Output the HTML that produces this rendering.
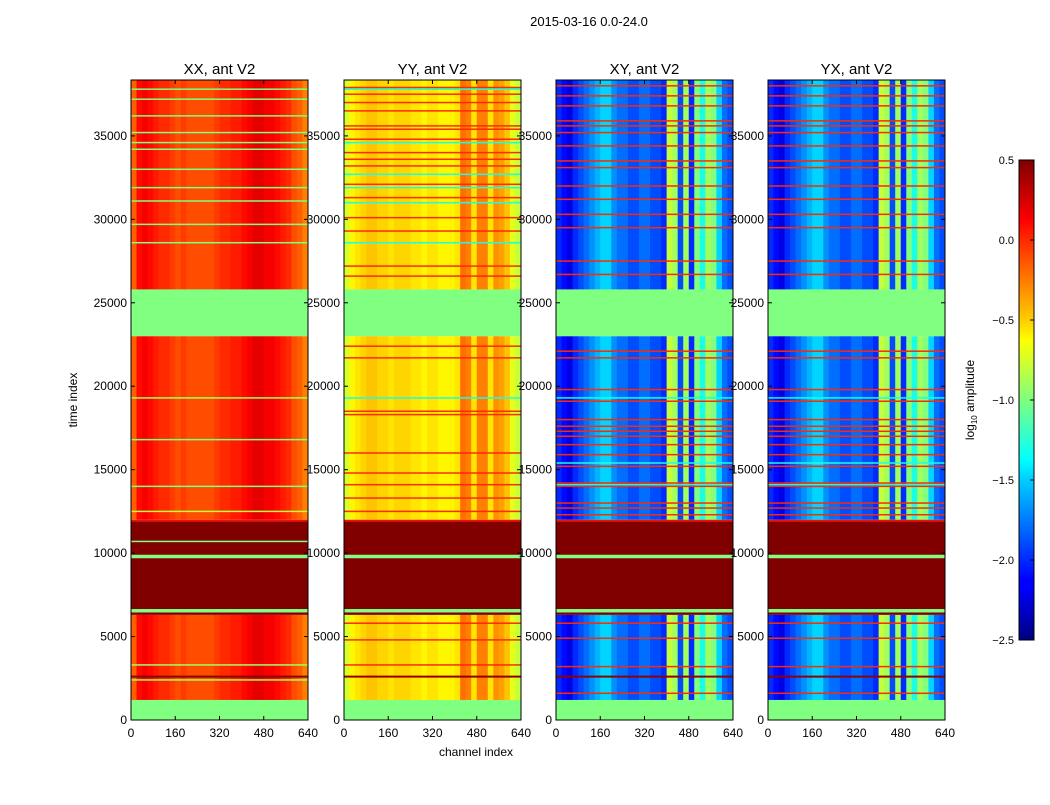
<!DOCTYPE html>
<html><head><meta charset="utf-8"><style>
body{margin:0;background:#fff;width:1050px;height:800px;overflow:hidden}
svg text{font-family:"Liberation Sans",sans-serif;fill:#000}
</style></head><body>
<svg id="fig" width="1050" height="800" xmlns="http://www.w3.org/2000/svg">
<defs>
<linearGradient id="jetg" x1="0" y1="1" x2="0" y2="0">
<stop offset="0" stop-color="#00007f"/><stop offset="0.11" stop-color="#0000ff"/><stop offset="0.125" stop-color="#0000ff"/>
<stop offset="0.34" stop-color="#00d4ff"/><stop offset="0.375" stop-color="#00ffff" /><stop offset="0.5" stop-color="#7fff7f"/>
<stop offset="0.625" stop-color="#ffff00"/><stop offset="0.66" stop-color="#ffd400"/><stop offset="0.875" stop-color="#ff0000"/><stop offset="1" stop-color="#7f0000"/>
</linearGradient>
</defs>
<text x="589" y="26" font-size="13" text-anchor="middle">2015-03-16 0.0-24.0</text>
<text x="476" y="756" font-size="12" text-anchor="middle">channel index</text>
<text x="77" y="400" font-size="12" text-anchor="middle" transform="rotate(-90 77 400)">time index</text>
<g id="panels"></g>
<g id="cbar">
<rect x="1019" y="160" width="15" height="480" fill="url(#jetg)" stroke="#000" stroke-width="1"/>
</g>
<text x="974" y="400" font-size="12" text-anchor="middle" transform="rotate(-90 974 400)">log<tspan font-size="8" dy="3">10</tspan><tspan dy="-3"> amplitude</tspan></text>
</svg>
<script>
const titles=["XX, ant V2","YY, ant V2","XY, ant V2","YX, ant V2"];
const xxProfile=[-0.15,0.1,0.15,0.1,0.05,0.0,0.0,-0.05,-0.1,-0.05,-0.1,-0.1,-0.1,-0.1,-0.1,-0.05,0.0,0.0,0.05,0.05,0.1,0.15,0.2,0.2,0.15,0.15,0.1,0.05,0.0,-0.1,-0.15,-0.25];
const yyProfile=[-0.75,-0.6,-0.55,-0.5,-0.45,-0.45,-0.5,-0.5,-0.55,-0.5,-0.5,-0.5,-0.55,-0.55,-0.6,-0.55,-0.55,-0.6,-0.6,-0.6,-0.55,-0.2,-0.25,-0.55,-0.25,-0.25,-0.55,-0.3,-0.35,-0.45,-0.7,-0.8];
const xyProfile=[-2.0,-2.1,-2.2,-2.0,-1.9,-1.8,-1.7,-1.6,-1.5,-1.5,-1.7,-1.8,-1.8,-1.9,-1.9,-1.8,-1.8,-1.9,-1.9,-2.0,-0.8,-0.9,-1.9,-0.9,-2.0,-1.0,-1.3,-0.9,-1.0,-1.5,-1.8,-1.9];
const yxProfile=xyProfile.slice();
const profiles=[xxProfile,yyProfile,xyProfile,yxProfile];
const dataSegments=[[1200,6300],[12000,23000],[25800,38350]];
const fillSegments=[[0,1200,-1.0],[6300,6450,0.5],[6450,6650,-1.0],[6650,9700,0.5],[9700,9900,-1.0],[9900,11900,0.5],[11900,12000,0.1],[23000,25800,-1.0]];
const xxStripes=[37800,37200,36200,35200,34600,34200,33000,31900,31100,29700,28600,19300,16800,14000,12500,10700,3300,2400];
const xxStripeVals=[-1,-1,-1,-1,-1,-1,-1,-1,-1,-1,-1,-0.9,-1,-1,-0.8,-1,-0.9,-0.9];
const yyStripes=[37900,37500,37000,36500,35600,35400,34800,34000,33600,33200,32100,31300,30100,29300,27200,26600,22400,21700,18500,18300,16000,14800,14100,13300,12500,5800,4800,3300,37800,34600,32700,31900,31000,28600,19300];
const yyStripeVals=[0,0,0,0,0,0,0,0,0,0,0,0,0,0,0,0,0,0,0,0,0,0,0,0,0,0,0,0,-1.3,-1.3,-1.3,-1.3,-1.3,-1.3,-1.3];
const xyStripes=[38000,37400,36800,35900,35600,35200,34400,33500,33100,32000,31200,30300,29500,27500,26700,22100,21700,19800,19100,18000,17600,17300,17000,16500,15900,15200,14200,14000,13000,12700,12300,5800,4900,3200,1600,19300,15400,14100];
const xyStripeVals=[0,0,0,0,0,0,0,0,0,0,0,0,0,0,0,0,0,0,0,0,0,0,0,0,0,0,0,0,0,0,0,0,0,0,0,-1.3,-1.3,-1.3];
const stripes=[[xxStripes,xxStripeVals],[yyStripes,yyStripeVals],[xyStripes,xyStripeVals],[xyStripes,xyStripeVals]];
const darkLineTimes=[2600];
const xTicks=[0,160,320,480,640];
const yTicks=[0,5000,10000,15000,20000,25000,30000,35000];
const cbTicks=[0.5,0.0,-0.5,-1.0,-1.5,-2.0,-2.5];
const vmin=-2.5,vmax=0.5,tMax=38350,chMax=640;
const panelX=[131,344,556,768],panelW=177,panelTop=80,panelBot=720;
const NS="http://www.w3.org/2000/svg";
function jet(v){let t=(v-vmin)/(vmax-vmin);t=Math.max(0,Math.min(1,t));
 const f=x=>Math.max(0,Math.min(1,x));
 const r=f(Math.min(4*t-1.5,-4*t+4.5)),g=f(Math.min(4*t-0.5,-4*t+3.5)),b=f(Math.min(4*t+0.5,-4*t+2.5));
 return `rgb(${Math.round(r*255)},${Math.round(g*255)},${Math.round(b*255)})`;}
function yScale(t){return panelBot-(t/tMax)*(panelBot-panelTop);}
function mk(tag,attrs,parent){const e=document.createElementNS(NS,tag);for(const k in attrs)e.setAttribute(k,attrs[k]);parent.appendChild(e);return e;}
const root=document.getElementById('panels');
for(let p=0;p<4;p++){
 const x0=panelX[p];const xScale=c=>x0+c/chMax*panelW;
 const g=mk('g',{},root);
 
 
 const prof=profiles[p];const bw=chMax/prof.length;
 for(const seg of dataSegments){
  for(let i=0;i<prof.length;i++){
   const r=mk('rect',{x:xScale(i*bw),y:yScale(seg[1]),width:xScale((i+1)*bw)-xScale(i*bw)+0.5,height:yScale(seg[0])-yScale(seg[1]),fill:jet(prof[i])},g);
   
   
  }
 }
 for(const f of fillSegments){
  const r=mk('rect',{x:x0,y:yScale(f[1]),width:panelW,height:yScale(f[0])-yScale(f[1]),fill:jet(f[2])},g);
  
  
 }
 const [st,sv]=stripes[p];
 for(let i=0;i<st.length;i++){
  const r=mk('rect',{x:x0,y:yScale(st[i]+45),width:panelW,height:yScale(st[i]-45)-yScale(st[i]+45),fill:jet(sv[i])},g);
  
  
 }
 for(const t of darkLineTimes){
  const r=mk('rect',{x:x0,y:yScale(t+60),width:panelW,height:yScale(t-60)-yScale(t+60),fill:jet(0.45)},g);
  
  
 }
 const fr=mk('rect',{x:x0,y:panelTop,width:panelW,height:panelBot-panelTop,fill:'none',stroke:'#000','stroke-width':1},g);
 
 
 const tt=mk('text',{x:x0+panelW/2,y:74,'font-size':15,'text-anchor':'middle'},g);tt.textContent=titles[p];
 
 
 for(const c of xTicks){const x=xScale(c);
  mk('line',{x1:x,x2:x,y1:panelBot,y2:panelBot-4,stroke:'#000'},g);mk('line',{x1:x,x2:x,y1:panelTop,y2:panelTop+4,stroke:'#000'},g);
  const l=mk('text',{x:x,y:737,'font-size':12,'text-anchor':'middle'},g);l.textContent=c;
  
  }
 for(const t of yTicks){const y=yScale(t);
  mk('line',{x1:x0,x2:x0+4,y1:y,y2:y,stroke:'#000'},g);mk('line',{x1:x0+panelW,x2:x0+panelW-4,y1:y,y2:y,stroke:'#000'},g);
  const l=mk('text',{x:x0-4,y:y+4,'font-size':12,'text-anchor':'end'},g);l.textContent=t;
  
  }
}
const cb=document.getElementById('cbar');
for(const v of cbTicks){const y=640-(v-vmin)/(vmax-vmin)*480;
 mk('line',{x1:1034,x2:1030,y1:y,y2:y,stroke:'#000'},cb);
 const l=mk('text',{x:1014,y:y+4,'font-size':11,'text-anchor':'end'},cb);l.textContent=(v<0?'\u2212':'')+Math.abs(v).toFixed(1);
 
 }
</script>
</body></html>
